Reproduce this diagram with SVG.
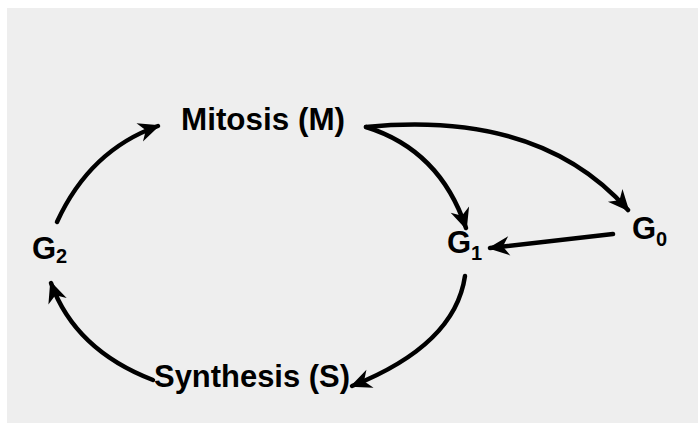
<svg xmlns="http://www.w3.org/2000/svg" width="698" height="423" viewBox="0 0 698 423">
  <defs>
    <marker id="head" markerUnits="userSpaceOnUse" markerWidth="28" markerHeight="28" viewBox="-22 -12 26 24" refX="0" refY="0" orient="auto">
      <path d="M2,0 L-18,-9 L-12,0 L-18,9 Z" fill="#000"/>
    </marker>
  </defs>
  <style>
    .lbl { font-family: "Liberation Sans", Arial, sans-serif; font-weight: bold; fill: #000; }
    .big { font-size: 31px; }
    .g { font-size: 31px; }
    .sub { font-size: 20px; }
    .arc { fill: none; stroke: #000; stroke-width: 4.5; stroke-linecap: round; marker-end: url(#head); }
  </style>

  <rect x="0" y="0" width="698" height="423" fill="#fff"/>
  <rect x="7" y="8" width="691" height="415" fill="#eeeeee"/>

  <g id="connectors">
    <path class="arc" d="M57,222 Q90,150 158,126"/>
    <path class="arc" d="M366,127 Q440,150 466,228"/>
    <path class="arc" d="M366,127 Q540,110 628,210"/>
    <path class="arc" d="M613,234 L490,248"/>
    <path class="arc" d="M465,276 Q455,345 352,386"/>
    <path class="arc" d="M153,380 Q75,350 51,283"/>
  </g>

  <g id="mitosis">
    <text class="lbl big" x="181" y="130" textLength="164" lengthAdjust="spacingAndGlyphs">Mitosis (M)</text>
  </g>
  <g id="g2">
    <text class="lbl g" x="32" y="259">G</text>
    <text class="lbl sub" x="56" y="263">2</text>
  </g>
  <g id="g1">
    <text class="lbl g" x="447" y="253">G</text>
    <text class="lbl sub" x="471" y="260">1</text>
  </g>
  <g id="g0">
    <text class="lbl g" x="632" y="239">G</text>
    <text class="lbl sub" x="656" y="246">0</text>
  </g>
  <g id="synthesis">
    <text class="lbl big" x="154" y="387" textLength="196" lengthAdjust="spacingAndGlyphs">Synthesis (S)</text>
  </g>
</svg>
